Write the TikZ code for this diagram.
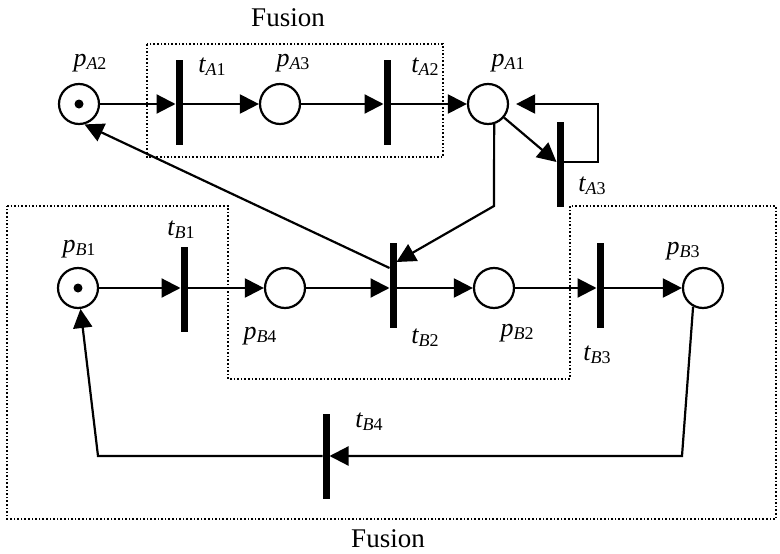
\documentclass[tikz,border=0pt]{standalone}
\usepackage{fontspec}
\setmainfont{Liberation Serif}
\usetikzlibrary{arrows.meta,calc}
\newcommand{\pnl}[3]{{\fontsize{26}{26}\selectfont\itshape #1}\raisebox{-3pt}{\fontsize{18}{18}\selectfont\itshape #2\upshape #3}}
\begin{document}
\begin{tikzpicture}[x=1pt,y=-1pt,
 place/.style={circle,draw,line width=2.2pt,minimum size=40pt,inner sep=0pt},
 trans/.style={rectangle,fill=black,minimum width=7pt,minimum height=85pt,inner sep=0pt,outer sep=0pt},
 arc/.style={line width=2.2pt,-{Triangle[length=19pt,width=19pt]}},
 fusionbox/.style={line width=1.6pt,dash pattern=on 1.6pt off 2pt},
 lbl/.style={anchor=base,inner sep=0pt},
 fus/.style={anchor=base,inner sep=0pt,font=\fontsize{27}{27}\selectfont},
 token/.style={circle,fill=black,minimum size=9pt,inner sep=0pt}]
\useasboundingbox (0,0) rectangle (780,554);

% fusion boxes
\draw[fusionbox] (147,44) rectangle (443,157);
\draw[fusionbox] (7,206) -- (228,206) -- (228,379) -- (570,379) -- (570,206) -- (776,206) -- (776,519) -- (7,519) -- cycle;
\node[fus] (f1) at (288,27) {Fusion};
\node[fus] (f2) at (388,547) {Fusion};

% places
\node[place] (pA2) at (79,104) {};
\node[place] (pA3) at (280,104) {};
\node[place] (pA1) at (488,104) {};
\node[place] (pB1) at (78,288) {};
\node[place] (pB4) at (285,288) {};
\node[place] (pB2) at (494,288) {};
\node[place] (pB3) at (703,288) {};
\node[token] (kA2) at (pA2) {};
\node[token] (kB1) at (pB1) {};

% transitions
\node[trans] (tA1) at (179,102) {};
\node[trans] (tA2) at (387,102) {};
\node[trans] (tA3) at (560,164) {};
\node[trans] (tB1) at (184,289) {};
\node[trans] (tB2) at (393,285) {};
\node[trans] (tB3) at (600,285) {};
\node[trans] (tB4) at (326,456) {};

% coordinates
\coordinate (cA3) at (598,104);
\coordinate (cB2) at (494,206);
\coordinate (cR) at (682,456);
\coordinate (cL) at (98,456);

% arcs row A
\draw[arc] (pA2) -- (tA1.west |- pA2);
\draw[arc] (tA1.east |- pA3) -- (pA3);
\draw[arc] (pA3) -- (tA2.west |- pA3);
\draw[arc] (tA2.east |- pA1) -- (pA1);
\draw[arc] (pA1) -- ($(tA3.west)+(0,-2)$);
\draw[arc,shorten >=7pt] ($(tA3.east)+(0,-2)$) -| (cA3) -- (pA1.east);
\draw[arc] (pA1.-73) -- (cB2) -- ($(tB2.east)+(0,-23)$);
\draw[arc] ($(tB2.west)+(0,-17)$) -- (pA2.-75);

% arcs row B
\draw[arc] (pB1) -- (tB1.west |- pB1);
\draw[arc] (tB1.east |- pB4) -- (pB4);
\draw[arc] (pB4) -- (tB2.west |- pB4);
\draw[arc] (tB2.east |- pB2) -- (pB2);
\draw[arc] (pB2) -- (tB3.west |- pB2);
\draw[arc] (tB3.east |- pB3) -- (pB3);
\draw[arc] (pB3.-118) -- (cR) -- (tB4.east);
\draw[arc] (tB4.west) -- (cL) -- (pB1);

% labels
\node[lbl] (lpA2) at (90,66.5) {\pnl{p}{A}{2}};
\node[lbl] (ltA1) at (212,72) {\pnl{t}{A}{1}};
\node[lbl] (lpA3) at (293,66.5) {\pnl{p}{A}{3}};
\node[lbl] (ltA2) at (425,72) {\pnl{t}{A}{2}};
\node[lbl] (lpA1) at (508,66) {\pnl{p}{A}{1}};
\node[lbl] (ltA3) at (592,191) {\pnl{t}{A}{3}};
\node[lbl] (ltB1) at (181,235) {\pnl{t}{B}{1}};
\node[lbl] (lpB1) at (79,252.5) {\pnl{p}{B}{1}};
\node[lbl] (lpB4) at (260,339.5) {\pnl{p}{B}{4}};
\node[lbl] (ltB2) at (425,343) {\pnl{t}{B}{2}};
\node[lbl] (lpB2) at (517,336.5) {\pnl{p}{B}{2}};
\node[lbl] (ltB3) at (597,360) {\pnl{t}{B}{3}};
\node[lbl] (lpB3) at (683,254.5) {\pnl{p}{B}{3}};
\node[lbl] (ltB4) at (369,427) {\pnl{t}{B}{4}};
\end{tikzpicture}
\end{document}
